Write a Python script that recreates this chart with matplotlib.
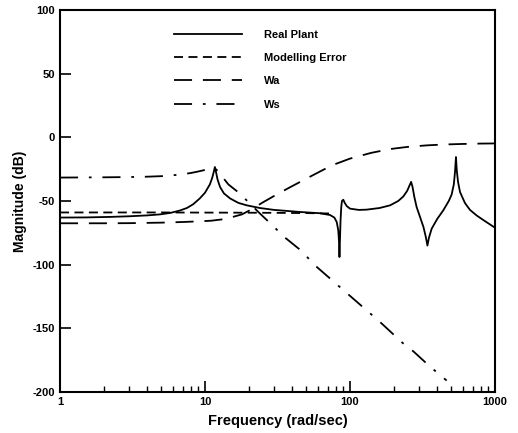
import matplotlib
matplotlib.use('Agg')
from matplotlib import pyplot as plt

plt.rcParams['font.family'] = ['Liberation Sans', 'DejaVu Sans']
plt.rcParams['axes.unicode_minus'] = False

# Real plant magnitude
plant_w = [1, 1.5, 2.2, 3, 4, 4.9, 5.8, 6.7, 7.5, 8.3, 9.2, 10, 10.8, 11.2, 11.5, 11.7,
           11.9, 12.2, 12.7, 13.5, 14.9, 17, 19.4, 23.9, 30, 45, 62, 72.8, 78, 81, 83,
           84, 84.6, 85.3, 86, 87, 88, 89.9, 92, 95, 100, 115, 130, 160, 189, 215, 233,
           248, 258, 264, 270, 278, 288, 305, 321, 333, 342, 350, 366, 400, 440, 480,
           502, 520, 530, 538, 545, 556, 574, 620, 672, 750, 832, 1000]
plant_db = [-63, -62.9, -62.5, -62, -61.3, -60.5, -59.3, -57.5, -55.5, -52.5, -48, -43.5, -37, -32, -27, -23.3,
            -27, -33, -39, -44, -48, -51.5, -53.4, -55.5, -57, -58.6, -59.6, -61, -63, -66.5, -73,
            -82, -94, -80, -66, -55, -50, -49, -51.5, -54, -56, -57, -56.8, -55.5, -53.4, -50, -46.5,
            -42, -37.5, -35, -39, -47, -54.7, -63, -70.4, -78, -85, -79, -71.7, -64, -57.3, -50,
            -45, -37, -27, -15.5, -26, -35, -43, -51.5, -57, -61.5, -65, -71]

# Modelling error
err_w = [1, 5, 10, 20, 30, 50, 72]
err_db = [-59, -59, -59.1, -59.2, -59.3, -59.5, -59.8]

# Wa weight
wa_w = [1, 2, 3, 5, 7, 9, 11, 13, 15, 18, 21, 24.7, 30, 38, 48, 56, 75, 100, 140, 189,
        250, 339, 450, 600, 800, 1000]
wa_db = [-67.5, -67.5, -67.4, -67, -66.5, -66, -65.5, -64.5, -63, -60.5, -56.5, -51.5, -46, -39.6, -33.5, -29.5,
         -22, -16.7, -12.2, -9.2, -7.5, -6.3, -5.6, -5.2, -4.9, -4.8]

# Ws weight
ws_w = [1, 2, 3, 4, 5, 6, 7, 8, 9, 10, 11, 11.7, 12.3, 13.3, 14.5, 16.9, 20, 23.5, 27.6,
        35.6, 46.4, 56.6, 100, 161, 236, 273, 356, 464]
ws_db = [-31.6, -31.4, -31.2, -30.9, -30.5, -29.8, -29, -28, -26.8, -25.6, -24.8, -24.5, -26.5, -31.6, -37, -43, -51, -59, -66.5,
         -78.7, -89.3, -100, -124.5, -145, -162.5, -168, -180, -191]

fig = plt.figure(figsize=(5.18, 4.33), dpi=100)
ax = fig.add_axes([60/518, 1 - 392/433, 435/518, 382/433])

ax.plot(plant_w, plant_db, color='k', lw=1.3, ls='-', label='Real Plant')
ax.plot(err_w, err_db, color='k', lw=1.3, ls=(0, (5, 3)), label='Modelling Error')
ax.plot(wa_w, wa_db, color='k', lw=1.3, ls=(0, (10, 6)), label='Wa')
ax.plot(ws_w, ws_db, color='k', lw=1.3, ls=(0, (10, 6, 1.5, 6)), label='Ws')

ax.set_xscale('log')
ax.set_xlim(1, 1000)
ax.set_ylim(-200, 100)
ax.set_yticks([-200, -150, -100, -50, 0, 50, 100])
ax.set_xticks([1, 10, 100, 1000])
ax.set_xticklabels(['1', '10', '100', '1000'])
ax.tick_params(which='major', direction='in', length=8, width=1.2, labelsize=8, top=False, right=False)
ax.tick_params(which='minor', direction='in', length=4, width=1, top=False, right=False)
ax.tick_params(axis='y', which='minor', left=False)
for lab in ax.get_xticklabels() + ax.get_yticklabels():
    lab.set_fontweight('bold')
for s in ax.spines.values():
    s.set_linewidth(1.5)

ax.set_xlabel('Frequency (rad/sec)', fontsize=10.5, fontweight='bold', labelpad=5)
ax.set_ylabel('Magnitude (dB)', fontsize=10, fontweight='bold', labelpad=4)

leg = ax.legend(loc='upper left', bbox_to_anchor=(0.24, 0.975), frameon=False, fontsize=8,
                handlelength=6.1, handletextpad=2.0, labelspacing=1.2)
for t in leg.get_texts():
    t.set_fontweight('bold')

plt.savefig('out.png', dpi=100)
